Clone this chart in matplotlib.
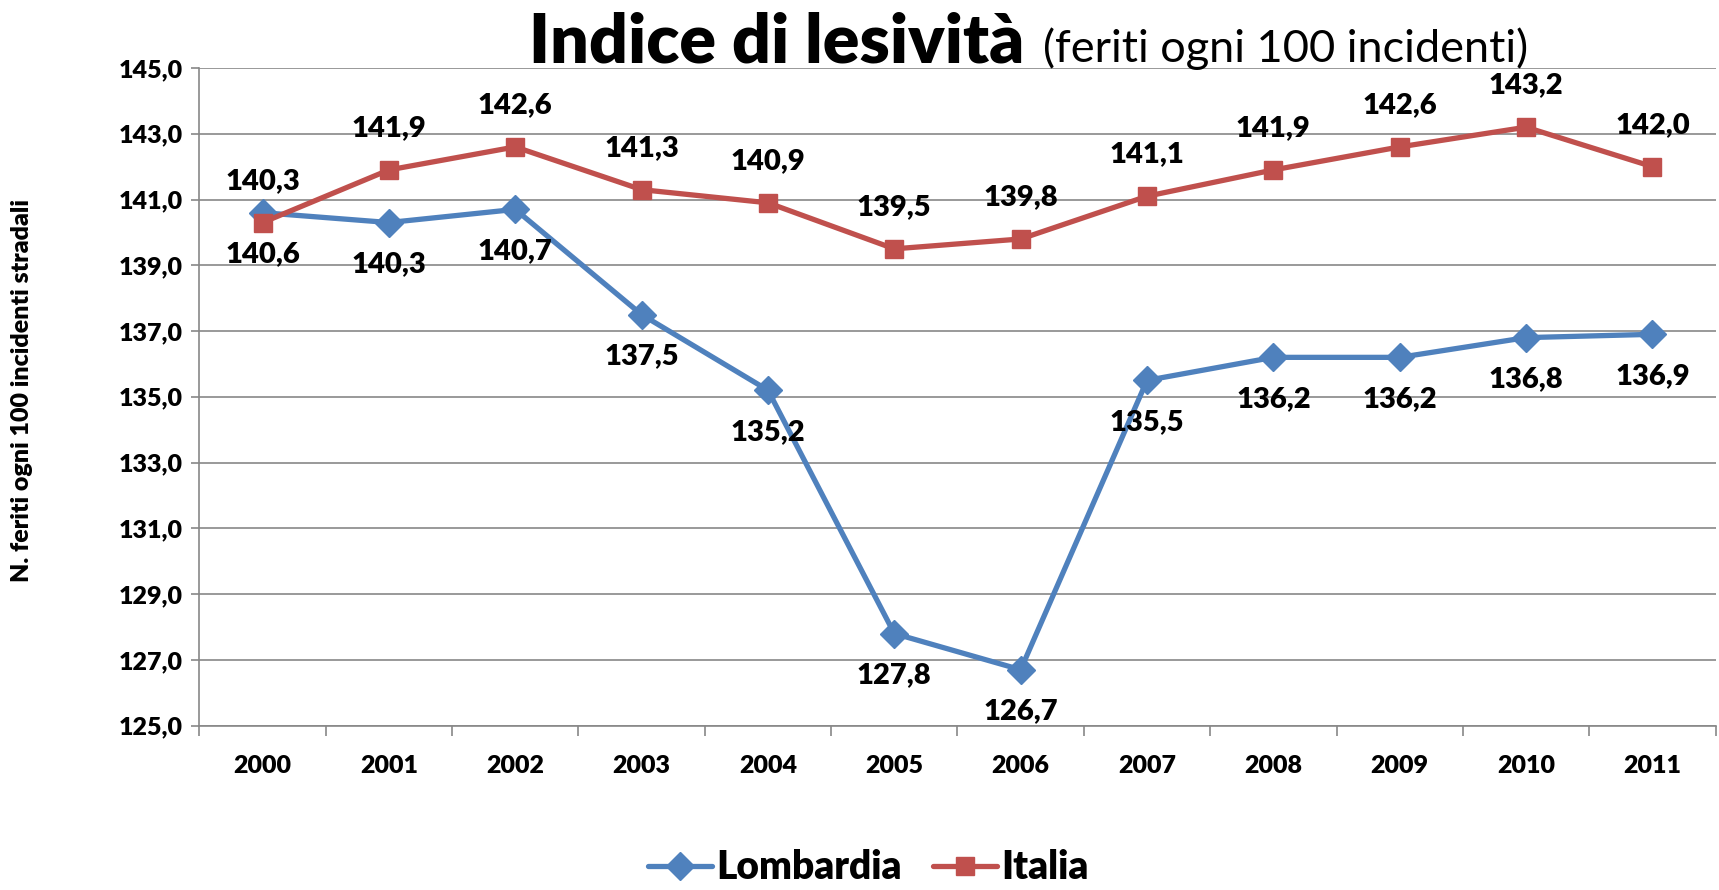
import matplotlib.pyplot as plt
import matplotlib.ticker as mticker
import numpy as np

plt.rcParams['font.family'] = ['Lato', 'DejaVu Sans']

anni = ['2000', '2001', '2002', '2003', '2004', '2005',
        '2006', '2007', '2008', '2009', '2010', '2011']
lombardia = [140.6, 140.3, 140.7, 137.5, 135.2, 127.8,
             126.7, 135.5, 136.2, 136.2, 136.8, 136.9]
italia = [140.3, 141.9, 142.6, 141.3, 140.9, 139.5,
          139.8, 141.1, 141.9, 142.6, 143.2, 142.0]
y_ticks = [125, 127, 129, 131, 133, 135, 137, 139, 141, 143, 145]

blu = '#4F81BD'
rosso = '#C0504D'
grigio = '#878787'


def virgola(v, pos=None):
    return ('%.1f' % v).replace('.', ',')


fig = plt.figure(figsize=(17.19, 8.90), dpi=100)
ax = fig.add_axes([0.116, 0.1847, 0.882, 0.7389])

x = np.arange(len(anni))
ax.plot(x, lombardia, color=blu, lw=3.8, marker='D', markersize=14,
        label='Lombardia', solid_capstyle='round')
ax.plot(x, italia, color=rosso, lw=3.8, marker='s', markersize=13,
        label='Italia', solid_capstyle='round')

for xi, v in zip(x, lombardia):
    ax.annotate(virgola(v), (xi, v), xytext=(0, -30), textcoords='offset points',
                ha='center', va='center', fontsize=21, fontweight='heavy')
for xi, v in zip(x, italia):
    ax.annotate(virgola(v), (xi, v), xytext=(0, 30), textcoords='offset points',
                ha='center', va='center', fontsize=21, fontweight='heavy')

ax.set_xlim(-0.5, len(anni) - 0.5)
ax.set_ylim(125, 145)
ax.set_yticks(y_ticks)
ax.yaxis.set_major_formatter(mticker.FuncFormatter(virgola))
ax.grid(axis='y', color=grigio, lw=1.2)
ax.set_axisbelow(True)

# tacche tra le categorie, etichette al centro
ax.set_xticks(np.arange(-0.5, len(anni), 1.0))
ax.set_xticklabels([])
ax.set_xticks(x, minor=True)
ax.set_xticklabels(anni, minor=True)
ax.tick_params(axis='x', which='major', length=7, width=1.2, color=grigio)
ax.tick_params(axis='x', which='minor', length=0, pad=21)
ax.tick_params(axis='y', length=6, width=1.2, color=grigio, pad=6)
for lab in ax.get_xticklabels(minor=True) + ax.get_yticklabels():
    lab.set_fontsize(18)
    lab.set_fontweight('heavy')

for s in ['top', 'right']:
    ax.spines[s].set_visible(False)
for s in ['left', 'bottom']:
    ax.spines[s].set_color(grigio)
    ax.spines[s].set_linewidth(1.2)

ax.set_ylabel('N. feriti ogni 100 incidenti stradali', fontsize=18,
              fontweight='heavy', labelpad=0)
ax.yaxis.set_label_coords(-0.11, 0.51)

fig.text(0.308, 0.93, 'Indice di lesività', fontsize=49, fontweight='heavy',
         ha='left', va='baseline')
fig.text(0.607, 0.93, '(feriti ogni 100 incidenti)', fontsize=32.5,
         ha='left', va='baseline')

fig.legend(loc='center', bbox_to_anchor=(0.505, 0.025), ncol=2, frameon=False,
           prop={'size': 28, 'weight': 'heavy'}, handlelength=1.65,
           handletextpad=0.1, columnspacing=0.8)

fig.savefig('out.png', dpi=100)
